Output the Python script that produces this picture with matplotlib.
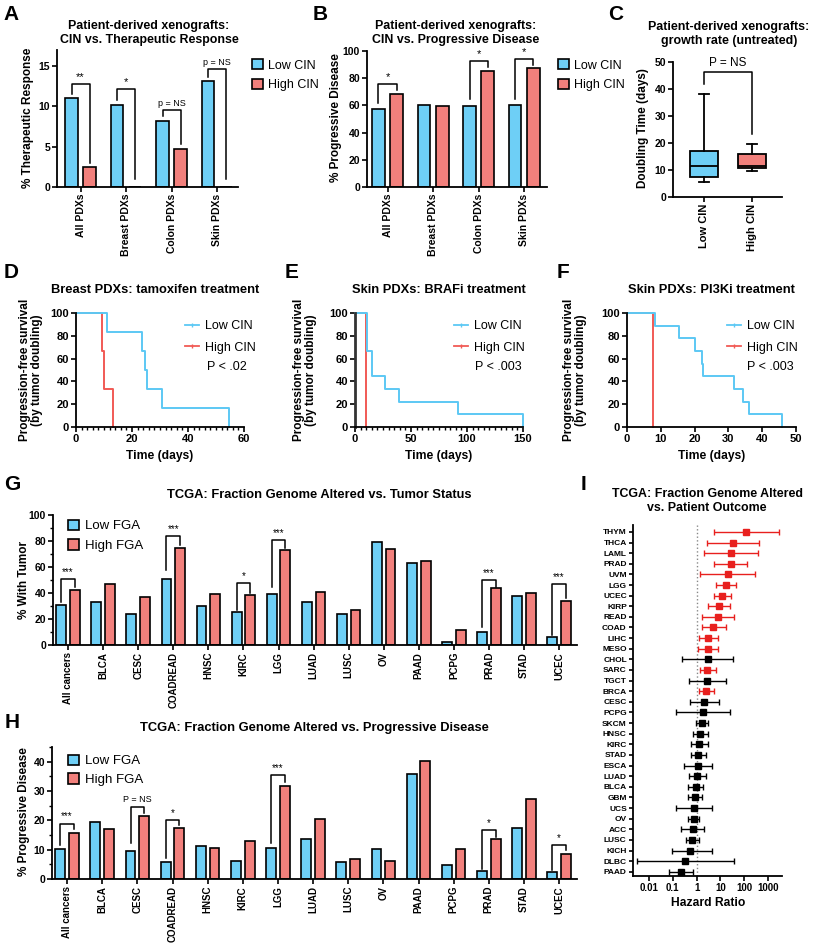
import numpy as np
import matplotlib
matplotlib.use('Agg')
import matplotlib.pyplot as plt
from matplotlib.patches import Patch
from matplotlib.lines import Line2D
from matplotlib.ticker import MultipleLocator, NullLocator

plt.rcParams['font.family'] = ['Liberation Sans', 'DejaVu Sans']
plt.rcParams['font.weight'] = 'bold'
plt.rcParams['axes.labelweight'] = 'bold'

BLUE = '#6ECFF6'
RED = '#F2807C'
KM_BLUE = '#5CC8F4'
KM_RED = '#F15A55'
FOREST_RED = '#E8201E'

# --- A / B: PDX bars ---
pdx_groups = ['All PDXs', 'Breast PDXs', 'Colon PDXs', 'Skin PDXs']
resp_low = [11.0, 10.2, 8.2, 13.1]
resp_high = [2.5, 0.0, 4.7, 0.0]
resp_sig = [(0, 12.75, 11.6, 3.0, '**'), (1, 12.1, 10.8, 1.0, '*'),
            (2, 9.6, 8.8, 5.3, 'p = NS'), (3, 14.7, 13.6, 1.0, 'p = NS')]
prog_low = [57.5, 60.5, 59.8, 60.3]
prog_high = [68.5, 59.5, 85.5, 87.3]
prog_sig = [(0, 75.7, 62.0, 71.5, '*'), (2, 92.6, 65.0, 88.0, '*'),
            (3, 94.0, 65.0, 90.0, '*')]

# --- C: doubling time boxes ---
growth_labels = ['Low CIN', 'High CIN']
growth_whislo = [5.5, 9.8]
growth_q1 = [7.5, 10.7]
growth_med = [11.5, 11.5]
growth_q3 = [17.0, 15.8]
growth_whishi = [38.0, 19.5]

# --- D/E/F: Kaplan-Meier steps ---
d_low_t = [0, 11, 23.5, 24.6, 25.4, 30.7, 54.6]
d_low_s = [100, 83.3, 66.7, 50, 33.3, 16.7, 0]
d_high_t = [0, 9.2, 10, 13.2]
d_high_s = [100, 66.7, 33.3, 0]
e_low_t = [0, 10.7, 15, 27, 39, 92, 150]
e_low_s = [100, 66.7, 44.4, 33.3, 22.2, 11.1, 0]
e_high_t = [0, 9.5]
e_high_s = [100, 0]
f_low_t = [0, 8.3, 15.4, 20, 22.2, 22.5, 31.7, 34.3, 36.1, 45.9]
f_low_s = [100, 88.9, 77.8, 66.7, 55.6, 44.4, 33.3, 22.2, 11.1, 0]
f_high_t = [0, 7.7]
f_high_s = [100, 0]

# --- G/H: TCGA bars ---
tcga_types = ['All cancers', 'BLCA', 'CESC', 'COADREAD', 'HNSC', 'KIRC', 'LGG',
              'LUAD', 'LUSC', 'OV', 'PAAD', 'PCPG', 'PRAD', 'STAD', 'UCEC']
tumor_low = [31, 33, 23.5, 51, 30, 25.5, 39, 33, 23.5, 79, 63, 2, 10, 38, 6]
tumor_high = [42.5, 47, 37, 75, 39, 38.5, 73, 41, 27, 74, 65, 11.5, 43.5, 40, 34]
tumor_sig = [(0, 51, 33, 44.5, '***'), (3, 84, 58, 77, '***'), (5, 48, 27, 40, '*'),
             (6, 81, 45, 74.5, '***'), (12, 50, 14, 45, '***'), (14, 47, 8, 36, '***')]
pd_low = [10.2, 19.3, 9.4, 5.7, 11.1, 6.2, 10.6, 13.6, 5.7, 10.2, 35.9, 4.9, 2.6, 17.4, 2.3]
pd_high = [15.7, 17.0, 21.5, 17.4, 10.6, 13.1, 31.8, 20.6, 6.8, 6.2, 40.3, 10.3, 13.6, 27.3, 8.5]
pd_sig = [(0, 18.9, 11.7, 17.0, '***'), (2, 24.7, 12.3, 22.6, 'P = NS'),
          (3, 20.0, 7.2, 18.3, '*'), (6, 35.3, 12.3, 33.0, '***'),
          (12, 16.6, 3.5, 14.4, '*'), (14, 11.6, 3.2, 9.9, '*')]

# --- I: hazard ratios ---
i_types = ['THYM', 'THCA', 'LAML', 'PRAD', 'UVM', 'LGG', 'UCEC', 'KIRP', 'READ', 'COAD',
           'LIHC', 'MESO', 'CHOL', 'SARC', 'TGCT', 'BRCA', 'CESC', 'PCPG', 'SKCM', 'HNSC',
           'KIRC', 'STAD', 'ESCA', 'LUAD', 'BLCA', 'GBM', 'UCS', 'OV', 'ACC', 'LUSC',
           'KICH', 'DLBC', 'PAAD']
i_hr = [117, 33, 27, 27, 20, 16.6, 12, 8.5, 7.8, 4.9, 3.0, 3.0, 3.0, 2.8, 2.6, 2.4,
        2.0, 1.8, 1.6, 1.35, 1.3, 1.15, 1.1, 1.05, 0.9, 0.85, 0.75, 0.75, 0.7, 0.63,
        0.55, 0.33, 0.23]
i_lo = [5.2, 2.6, 2.0, 5.2, 1.35, 6.3, 5.5, 3.0, 1.7, 1.6, 1.2, 1.1, 0.25, 1.35, 0.46,
        1.2, 0.55, 0.13, 0.9, 0.68, 0.6, 0.6, 0.3, 0.5, 0.42, 0.42, 0.14, 0.42, 0.23,
        0.35, 0.09, 0.003, 0.07]
i_hi = [2900, 420, 370, 130, 280, 45, 27, 26, 37, 16.5, 7.5, 7.7, 34, 6.3, 16.5, 5.2,
        8.5, 26, 3.0, 2.9, 2.9, 2.5, 4.2, 2.4, 1.8, 1.6, 4.2, 1.25, 2.0, 1.2, 4.2, 36, 0.68]
i_sig = [True] * 12 + [False, True, False, True] + [False] * 17

W, H = 815, 943
fig = plt.figure(figsize=(W / 100, H / 100), dpi=100)


def add_ax(l, t, r, b):
    return fig.add_axes([l / W, 1 - b / H, (r - l) / W, (b - t) / H])


def ftext(x, y, s, **kw):
    kw.setdefault('ha', 'center')
    kw.setdefault('va', 'center')
    fig.text(x / W, 1 - y / H, s, **kw)


def style(ax, size=7.5):
    for side in ['top', 'right']:
        ax.spines[side].set_visible(False)
    for side in ['left', 'bottom']:
        ax.spines[side].set_linewidth(1.3)
    ax.tick_params(direction='out', length=3.5, width=1.2, labelsize=size, pad=1.5)
    ax.tick_params(which='minor', length=2, width=1.0)


def grouped(ax, low, high, width, off):
    x = np.arange(len(low))
    ax.bar(x - off, low, width, color=BLUE, edgecolor='black', linewidth=1.2, zorder=2)
    ax.bar(x + off, high, width, color=RED, edgecolor='black', linewidth=1.2, zorder=2)


def brackets(ax, sig, off, pad, small=6.5, big=8):
    for i, top, left, right, txt in sig:
        ax.plot([i - off, i - off, i + off, i + off], [left, top, top, right],
                color='black', lw=1.1, zorder=3, clip_on=False)
        fs = big if txt.startswith('*') else small
        ax.text(i, top + pad, txt, ha='center', va='bottom', fontsize=fs,
                fontweight='normal')


def bar_legend(x, y, labels, size=9, spacing=0.6):
    handles = [Patch(facecolor=BLUE, edgecolor='black', linewidth=1.2),
               Patch(facecolor=RED, edgecolor='black', linewidth=1.2)]
    fig.legend(handles, labels, loc='upper left', bbox_to_anchor=(x / W, 1 - y / H),
               frameon=False, borderpad=0, handlelength=0.85, handleheight=0.85,
               handletextpad=0.45, labelspacing=spacing,
               prop={'size': size, 'weight': 'normal'})


# panel A
ax = add_ax(57, 50, 238, 187)
style(ax)
grouped(ax, resp_low, resp_high, 0.275, 0.2)
brackets(ax, resp_sig, 0.2, 0.25)
ax.set_xlim(-0.52, 3.46)
ax.set_ylim(0, 17)
ax.set_yticks([0, 5, 10, 15])
ax.set_xticks(range(4))
ax.set_xticklabels(pdx_groups, rotation=90)
ftext(149, 33, 'Patient-derived xenografts:\nCIN vs. Therapeutic Response',
      fontsize=8.9, linespacing=1.2)
ftext(28, 118, '% Therapeutic Response', rotation=90, fontsize=8.5)
bar_legend(246, 53, ['Low CIN', 'High CIN'])

# panel B
ax = add_ax(367, 51, 547, 187)
style(ax)
grouped(ax, prog_low, prog_high, 0.28, 0.2)
brackets(ax, prog_sig, 0.2, 1.5)
ax.set_xlim(-0.45, 3.5)
ax.set_ylim(0, 100)
ax.set_yticks(range(0, 101, 20))
ax.set_xticks(range(4))
ax.set_xticklabels(pdx_groups, rotation=90)
ftext(456, 33, 'Patient-derived xenografts:\nCIN vs. Progressive Disease',
      fontsize=8.9, linespacing=1.2)
ftext(336, 118, '% Progressive Disease', rotation=90, fontsize=8.5)
bar_legend(552, 53, ['Low CIN', 'High CIN'])

# panel C
ax = add_ax(673, 62, 782, 197)
style(ax)
stats = []
for k in range(2):
    stats.append(dict(whislo=growth_whislo[k], q1=growth_q1[k], med=growth_med[k],
                      q3=growth_q3[k], whishi=growth_whishi[k], fliers=[],
                      label=growth_labels[k]))
bp = ax.bxp(stats, positions=[0, 1], widths=0.6, capwidths=0.22, patch_artist=True,
            showfliers=False,
            boxprops=dict(linewidth=1.3, edgecolor='black'),
            medianprops=dict(color='black', linewidth=1.3),
            whiskerprops=dict(linewidth=1.3), capprops=dict(linewidth=1.3))
for patch, c in zip(bp['boxes'], [BLUE, RED]):
    patch.set_facecolor(c)
ax.plot([0, 0, 1, 1], [42, 46.3, 46.3, 23.5], color='black', lw=1.1)
ax.text(0.5, 47.3, 'P = NS', ha='center', va='bottom', fontsize=8.5, fontweight='normal')
ax.set_xlim(-0.65, 1.63)
ax.set_ylim(0, 50)
ax.set_yticks(range(0, 51, 10))
ax.set_xticklabels(growth_labels, rotation=90, fontsize=8)
ftext(729, 34, 'Patient-derived xenografts:\ngrowth rate (untreated)',
      fontsize=8.9, linespacing=1.2)
ftext(643, 128, 'Doubling Time (days)', rotation=90, fontsize=8.5)


# Kaplan-Meier panels
def km_panel(box, low_t, low_s, high_t, high_s, xmax, xstep, minor, title, tx,
             ylx, leg_x, p_txt, p_x):
    ax = add_ax(*box)
    style(ax, size=8)
    ax.step(high_t, high_s, where='post', color=KM_RED, lw=1.4, clip_on=False)
    ax.step(low_t, low_s, where='post', color=KM_BLUE, lw=1.4, clip_on=False)
    ax.set_xlim(0, xmax)
    ax.set_ylim(0, 100)
    ax.set_yticks(range(0, 101, 20))
    ax.xaxis.set_major_locator(MultipleLocator(xstep))
    if minor:
        ax.xaxis.set_minor_locator(MultipleLocator(minor))
    ftext(tx, 290, title, fontsize=9.3)
    ftext(ylx, 370, 'Progression-free survival\n(by tumor doubling)', rotation=90,
          fontsize=8.5, linespacing=1.05)
    ftext((box[0] + box[2]) / 2, 456, 'Time (days)', fontsize=8.7)
    handles = [Line2D([0], [0], color=KM_BLUE, lw=1.3, marker='|', ms=3, mew=1),
               Line2D([0], [0], color=KM_RED, lw=1.3, marker='|', ms=3, mew=1)]
    fig.legend(handles, ['Low CIN', 'High CIN'], loc='upper left',
               bbox_to_anchor=(leg_x / W, 1 - 314 / H), frameon=False, borderpad=0,
               handlelength=1.1, handletextpad=0.45, labelspacing=0.75,
               prop={'size': 9, 'weight': 'normal'})
    ftext(p_x, 367, p_txt, fontsize=9, fontweight='normal')
    return ax


km_panel((76, 313, 244, 427), d_low_t, d_low_s, d_high_t, d_high_s, 60, 20, 2,
         'Breast PDXs: tamoxifen treatment', 155, 31, 179, 'P < .02', 227)
ax = km_panel((355, 313, 523, 427), e_low_t, e_low_s, e_high_t, e_high_s, 150, 50, 5,
              'Skin PDXs: BRAFi treatment', 439, 305, 448, 'P < .003', 498)
ax.spines['left'].set_linewidth(2)
ax.spines['left'].set_color('#333333')
km_panel((627, 313, 796, 427), f_low_t, f_low_s, f_high_t, f_high_s, 50, 10, None,
         'Skin PDXs: PI3Ki treatment', 711, 575, 721, 'P < .003', 770)

# panel G
ax = add_ax(53, 515, 577, 645)
style(ax)
grouped(ax, tumor_low, tumor_high, 0.28, 0.195)
brackets(ax, tumor_sig, 0.195, 1.5, big=7)
ax.set_xlim(-0.43, 14.51)
ax.set_ylim(0, 100)
ax.set_yticks(range(0, 101, 20))
ax.yaxis.set_minor_locator(MultipleLocator(10))
ax.set_xticks(range(len(tcga_types)))
ax.set_xticklabels(tcga_types, rotation=90, fontsize=7)
ftext(319, 495, 'TCGA: Fraction Genome Altered vs. Tumor Status', fontsize=9.3)
ftext(24, 580, '% With Tumor', rotation=90, fontsize=8.5)
bar_legend(61, 513, ['Low FGA', 'High FGA'], size=9.5, spacing=0.5)

# panel H
ax = add_ax(52, 747, 577, 879)
style(ax)
grouped(ax, pd_low, pd_high, 0.28, 0.195)
brackets(ax, pd_sig, 0.195, 0.7, big=7)
ax.set_xlim(-0.43, 14.51)
ax.set_ylim(0, 45)
ax.set_yticks(range(0, 41, 10))
ax.yaxis.set_minor_locator(MultipleLocator(5))
ax.set_xticks(range(len(tcga_types)))
ax.set_xticklabels(tcga_types, rotation=90, fontsize=7)
ftext(314, 728, 'TCGA: Fraction Genome Altered vs. Progressive Disease', fontsize=9.3)
ftext(24, 812, '% Progressive Disease', rotation=90, fontsize=8.5)
bar_legend(61, 748, ['Low FGA', 'High FGA'], size=9.5, spacing=0.45)

# panel I
ax = add_ax(633, 525, 782, 876)
style(ax)
ax.set_xscale('log')
ax.axvline(1, color='#888888', ls=':', lw=1, zorder=1)
ys = np.arange(len(i_types))[::-1]
for k in range(len(i_types)):
    c = FOREST_RED if i_sig[k] else 'black'
    ax.errorbar(i_hr[k], ys[k], xerr=[[i_hr[k] - i_lo[k]], [i_hi[k] - i_hr[k]]],
                fmt='s', color=c, ms=4.5, capsize=2.5, elinewidth=1, capthick=1,
                zorder=3)
ax.set_xlim(10 ** -2.67, 10 ** 3.58)
ax.set_ylim(-0.4, len(i_types) - 0.35)
ax.set_yticks(ys)
ax.set_yticklabels(i_types, fontsize=6)
ax.set_xticks([0.01, 0.1, 1, 10, 100, 1000])
ax.set_xticklabels(['0.01', '0.1', '1', '10', '100', '1000'], fontsize=7)
ax.xaxis.set_minor_locator(NullLocator())
ax.tick_params(axis='y', length=3)
ftext(707, 501, 'TCGA: Fraction Genome Altered\nvs. Patient Outcome', fontsize=8.9,
      linespacing=1.2)
ftext(708, 903, 'Hazard Ratio', fontsize=8.7)

# panel letters
for letter, x, y in [('A', 11, 15), ('B', 320, 15), ('C', 616, 15), ('D', 11, 272),
                     ('E', 292, 272), ('F', 563, 272), ('G', 12, 485),
                     ('H', 12, 722), ('I', 583, 485)]:
    ftext(x, y, letter, fontsize=15)

fig.savefig('out.png', dpi=100)
